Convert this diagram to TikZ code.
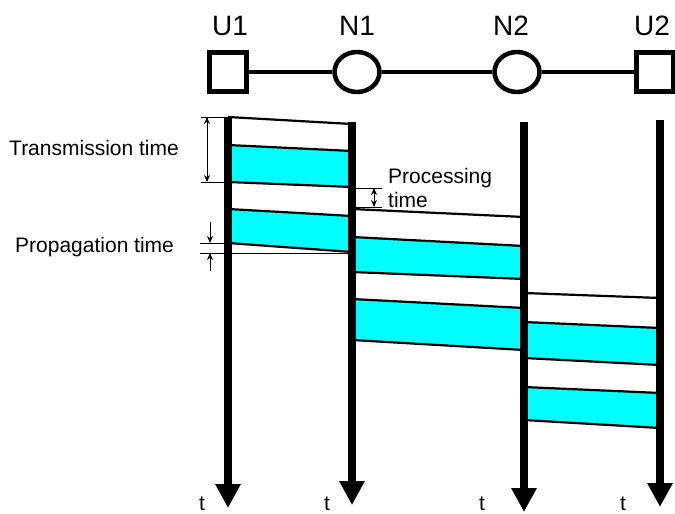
\documentclass[tikz,border=0pt]{standalone}
\usepackage{fontspec}
\setmainfont{Liberation Sans}
\usetikzlibrary{positioning,arrows.meta,shapes.geometric}

\definecolor{pktcyan}{RGB}{0,255,255}
\tikzset{
  host/.style={rectangle,draw,line width=4.5pt,minimum width=37pt,minimum height=39pt,inner sep=0pt},
  router/.style={ellipse,draw,line width=4.5pt,minimum width=45pt,minimum height=40pt,inner sep=0pt},
  link/.style={line width=4.5pt},
  timeline/.style={line width=8pt,-{Triangle[length=24pt,width=24pt]}},
  slot/.style={line width=2.2pt},
  payload/.style={fill=pktcyan},
  guide/.style={line width=0.8pt},
  measure/.style={line width=0.9pt,{Stealth[length=7pt,width=6pt]}-{Stealth[length=7pt,width=6pt]}},
  lbl/.style={font=\fontsize{21}{24}\selectfont,inner sep=0pt},
  hostlbl/.style={font=\fontsize{28}{32}\selectfont,inner sep=0pt},
}
\newcommand\burst[6]{\fill[payload] (#1,#3) -- (#2,#4) -- (#2,#6) -- (#1,#5) -- cycle;}

\begin{document}
\begin{tikzpicture}[x=1pt,y=-1pt]
\useasboundingbox (0,0) rectangle (675,514);

% network
\node[host] (u1) at (228,72) {};
\node[router] (n1) at (357,72) {};
\node[router] (n2) at (517,72) {};
\node[host] (u2) at (655,72) {};
\draw[link] (u1) -- (n1);
\draw[link] (n1) -- (n2);
\draw[link] (n2) -- (u2);
\node[hostlbl,anchor=base] (u1name) at (230,35) {U1};
\node[hostlbl,anchor=base] (n1name) at (357,35) {N1};
\node[hostlbl,anchor=base] (n2name) at (511,35) {N2};
\node[hostlbl,anchor=base] (u2name) at (652,35) {U2};

% time axes
\coordinate (u1top) at (228,117);
\coordinate (n1top) at (352,122);
\coordinate (n2top) at (524,122);
\coordinate (u2top) at (660,120);
\coordinate (u1end) at (228,508);
\coordinate (n1end) at (352,505);
\coordinate (n2end) at (524,512);
\coordinate (u2end) at (660,507);

% packets
\burst{228}{352}{145}{151}{182}{187}
\burst{228}{352}{209}{216}{243}{252}
\burst{352}{524}{237}{246}{272}{279}
\burst{352}{524}{299}{308}{340}{350}
\burst{524}{660}{322}{328}{358}{365}
\burst{524}{660}{387}{393}{420}{428}
\foreach \l/\r in {117/124,145/151,182/187,209/216,243/252}
  \draw[slot] (228,\l) -- (352,\r);
\foreach \l/\r in {209/217,237/246,272/279,299/308,340/350}
  \draw[slot] (352,\l) -- (524,\r);
\foreach \l/\r in {293/298,322/328,358/365,387/393,420/428}
  \draw[slot] (524,\l) -- (660,\r);

\draw[timeline] (u1top) -- (u1end);
\draw[timeline] (n1top) -- (n1end);
\draw[timeline] (n2top) -- (n2end);
\draw[timeline] (u2top) -- (u2end);
\node[lbl,anchor=base] (u1t) at (202,510) {t};
\node[lbl,anchor=base] (n1t) at (327,510) {t};
\node[lbl,anchor=base] (n2t) at (482,510) {t};
\node[lbl,anchor=base] (u2t) at (623,510) {t};

% transmission time
\coordinate (tx1) at (207,117);
\coordinate (tx2) at (207,182);
\draw[guide] (201,117) -- (228,117);
\draw[guide] (201,182) -- (228,182);
\draw[measure] (tx1) -- (tx2);
\node[lbl,anchor=base west] (txtime) at (9,155) {Transmission time};

% propagation time
\coordinate (pr1) at (210,243);
\coordinate (pr2) at (210,253);
\draw[guide] (200,243) -- (228,243);
\draw[guide] (200,253) -- (352,253);
\draw[guide,-{Stealth[length=7pt,width=6pt]}] (210,222) -- (pr1);
\draw[guide,-{Stealth[length=7pt,width=6pt]}] (210,271) -- (pr2);
\node[lbl,anchor=base west] (prtime) at (15,252) {Propagation time};

% processing time
\coordinate (pc1) at (374,188);
\coordinate (pc2) at (374,207);
\draw[guide] (352,188) -- (382,188);
\draw[guide] (352,207) -- (382,207);
\draw[measure] (pc1) -- (pc2);
\node[lbl,anchor=base west] (pctime) at (388,183) {Processing};
\node[lbl,anchor=base west] (pctime2) at (388,207) {time};
\end{tikzpicture}
\end{document}
